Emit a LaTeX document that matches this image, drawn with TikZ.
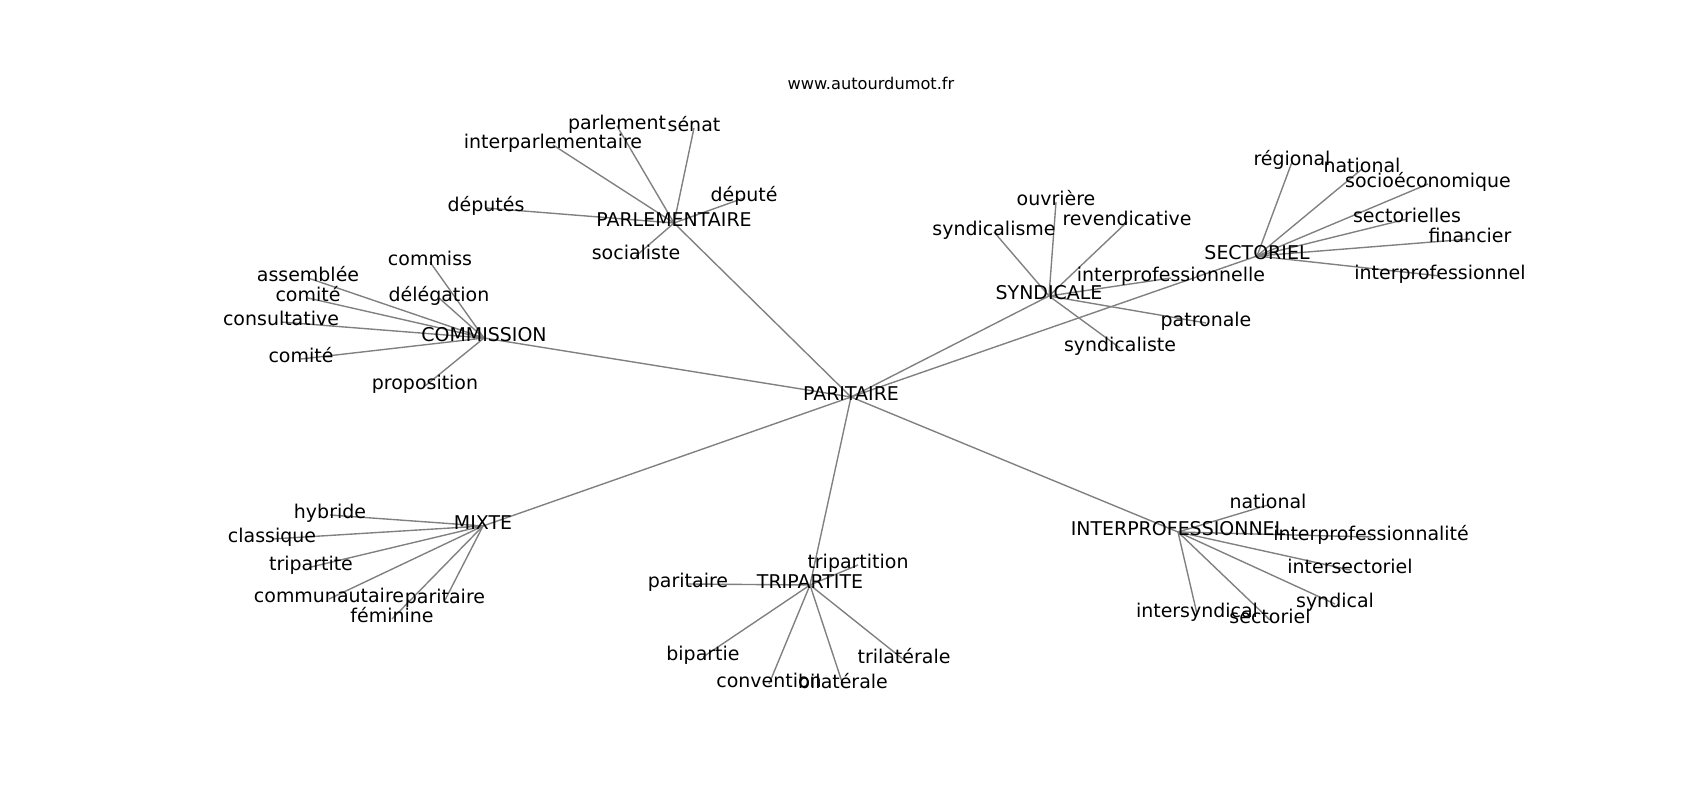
\documentclass[tikz,border=0pt]{standalone}
\usepackage{fontspec}
\setmainfont{DejaVu Sans}
\pgfdeclarelayer{bg}
\pgfsetlayers{bg,main}
\tikzset{
  lbl/.style={inner sep=0pt, text height=0.76em, text depth=0.208em, font=\fontsize{13.7}{16}\selectfont, text=black},
  ttl/.style={inner sep=0pt, font=\fontsize{11.7}{14}\selectfont, text=black},
  edge/.style={draw=gray, line width=1pt}
}
\begin{document}
\begin{tikzpicture}[x=0.01in, y=-0.01in]
\useasboundingbox (0,0) rectangle (1700,800);
\node[ttl] (title) at (871,83) {www.autourdumot.fr};
% centre
\node[lbl] (par) at (851,397) {PARITAIRE};
% parlementaire
\node[lbl] (parl) at (674,223) {PARLEMENTAIRE};
\node[lbl] (parlement) at (617,126) {parlement};
\node[lbl] (senat) at (694,128) {sénat};
\node[lbl] (interparl) at (553,145) {interparlementaire};
\node[lbl] (deputes) at (486,208) {députés};
\node[lbl] (depute) at (744,198) {député};
\node[lbl] (socialiste) at (636,256) {socialiste};
% commission
\node[lbl] (comm) at (484,338) {COMMISSION};
\node[lbl] (commiss) at (430,262) {commiss};
\node[lbl] (assemblee) at (308,278) {assemblée};
\node[lbl] (delegation) at (439,298) {délégation};
\node[lbl] (comiteA) at (308,298) {comité};
\node[lbl] (consultative) at (281,322) {consultative};
\node[lbl] (comiteB) at (301,359) {comité};
\node[lbl] (proposition) at (425,386) {proposition};
% syndicale
\node[lbl] (synd) at (1049,296) {SYNDICALE};
\node[lbl] (ouvriere) at (1056,202) {ouvrière};
\node[lbl] (syndicalisme) at (994,232) {syndicalisme};
\node[lbl] (revendicative) at (1127,222) {revendicative};
\node[lbl] (interprofelle) at (1171,278) {interprofessionnelle};
\node[lbl] (patronale) at (1206,323) {patronale};
\node[lbl] (syndicaliste) at (1120,348) {syndicaliste};
% sectoriel
\node[lbl] (sect) at (1257,256) {SECTORIEL};
\node[lbl] (regional) at (1292,162) {régional};
\node[lbl] (nationalA) at (1362,169) {national};
\node[lbl] (socioeco) at (1428,184) {socioéconomique};
\node[lbl] (sectorielles) at (1407,219) {sectorielles};
\node[lbl] (financier) at (1470,239) {financier};
\node[lbl] (interprofel) at (1440,276) {interprofessionnel};
% mixte
\node[lbl] (mixte) at (483,526) {MIXTE};
\node[lbl] (hybride) at (330,515) {hybride};
\node[lbl] (classique) at (272,539) {classique};
\node[lbl] (tripartite) at (311,567) {tripartite};
\node[lbl] (communautaire) at (329,599) {communautaire};
\node[lbl] (paritaireA) at (445,600) {paritaire};
\node[lbl] (feminine) at (392,619) {féminine};
% tripartite
\node[lbl] (trip) at (810,585) {TRIPARTITE};
\node[lbl] (tripartition) at (858,565) {tripartition};
\node[lbl] (paritaireB) at (688,584) {paritaire};
\node[lbl] (bipartie) at (703,657) {bipartie};
\node[lbl] (convention) at (769,684) {convention};
\node[lbl] (bilaterale) at (843,685) {bilatérale};
\node[lbl] (trilaterale) at (904,660) {trilatérale};
% interprofessionnel
\node[lbl] (interp) at (1178,532) {INTERPROFESSIONNEL};
\node[lbl] (nationalB) at (1268,505) {national};
\node[lbl] (interprofite) at (1371,537) {interprofessionnalité};
\node[lbl] (intersectoriel) at (1350,570) {intersectoriel};
\node[lbl] (syndical) at (1335,604) {syndical};
\node[lbl] (intersyndical) at (1197,614) {intersyndical};
\node[lbl] (sectoriel) at (1270,620) {sectoriel};

\begin{pgfonlayer}{bg}
\foreach \a/\b in {par/parl, par/comm, par/synd, par/sect, par/mixte, par/trip, par/interp,
  parl/parlement, parl/senat, parl/interparl, parl/deputes, parl/depute, parl/socialiste,
  comm/commiss, comm/assemblee, comm/delegation, comm/comiteA, comm/consultative, comm/comiteB, comm/proposition,
  synd/ouvriere, synd/syndicalisme, synd/revendicative, synd/interprofelle, synd/patronale, synd/syndicaliste,
  sect/regional, sect/nationalA, sect/socioeco, sect/sectorielles, sect/financier, sect/interprofel,
  mixte/hybride, mixte/classique, mixte/tripartite, mixte/communautaire, mixte/paritaireA, mixte/feminine,
  trip/tripartition, trip/paritaireB, trip/bipartie, trip/convention, trip/bilaterale, trip/trilaterale,
  interp/nationalB, interp/interprofite, interp/intersectoriel, interp/syndical, interp/intersyndical, interp/sectoriel}
  \draw[edge] (\a.center) -- (\b.center);
\end{pgfonlayer}
\end{tikzpicture}
\end{document}
